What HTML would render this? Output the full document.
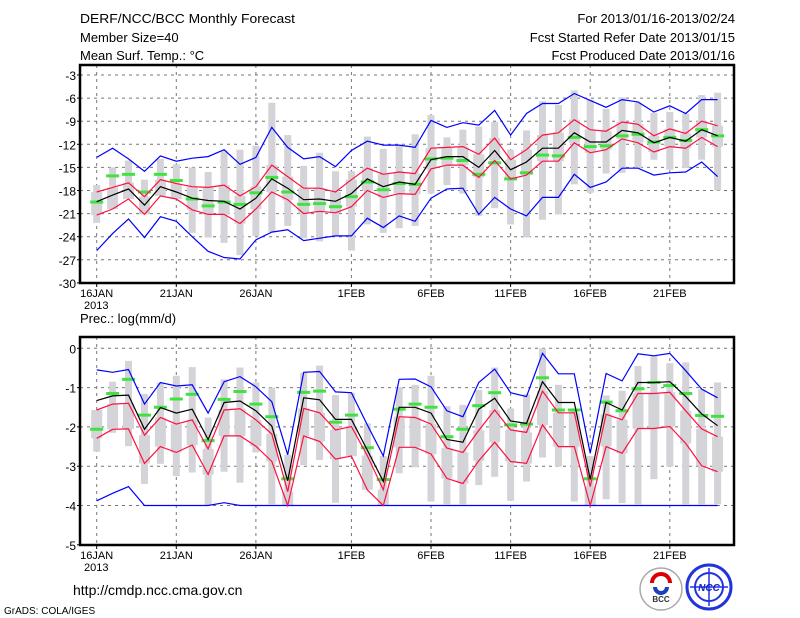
<!DOCTYPE html>
<html><head><meta charset="utf-8">
<style>
html,body{margin:0;padding:0;background:#fff;}
svg{display:block;font-family:"Liberation Sans",sans-serif;}
</style></head>
<body>
<svg id="chart" width="800" height="618" viewBox="0 0 800 618" xmlns="http://www.w3.org/2000/svg">
<g font-size="13" fill="#000">
<text x="80" y="23" textLength="215" lengthAdjust="spacingAndGlyphs">DERF/NCC/BCC Monthly Forecast</text>
<text x="80" y="42">Member Size=40</text>
<text x="80" y="60">Mean Surf. Temp.: °C</text>
<text x="735" y="23" text-anchor="end">For 2013/01/16-2013/02/24</text>
<text x="735" y="42" text-anchor="end">Fcst Started Refer Date 2013/01/15</text>
<text x="735" y="60" text-anchor="end">Fcst Produced Date 2013/01/16</text>
</g>
<text x="80" y="323" font-size="13">Prec.: log(mm/d)</text>
<g id="top"></g>
<g id="bot"></g>
<text x="73" y="595" font-size="14">http://cmdp.ncc.cma.gov.cn</text>
<text x="4" y="614" font-size="10">GrADS: COLA/IGES</text>
<g>
<circle cx="661" cy="589" r="21" fill="#fff" stroke="#aaa" stroke-width="1.5"/>
<path d="M652 583 a9 9 0 1 1 18 0" fill="none" stroke="#d00" stroke-width="4"/>
<path d="M655 587 a6 6 0 1 0 12 0" fill="none" stroke="#1a3fc0" stroke-width="4"/>
<text x="661" y="602" font-size="8" text-anchor="middle" font-weight="bold" fill="#333">BCC</text>
</g>
<g>
<circle cx="709" cy="587" r="22" fill="#fff" stroke="#2233dd" stroke-width="3"/>
<circle cx="709" cy="587" r="14" fill="none" stroke="#2233dd" stroke-width="2"/>
<path d="M690 587 h38 M709 568 v38" stroke="#2233dd" stroke-width="1.5"/>
<text x="709" y="591" font-size="10" text-anchor="middle" font-style="italic" font-weight="bold" fill="#1122cc">NCC</text>
</g>
</svg>
<script>
// ---- data (40 days, 16JAN..24FEB 2013) ----
const dayLabels = ["16JAN","21JAN","26JAN","1FEB","6FEB","11FEB","16FEB","21FEB"];
const dayLabelIdx = [0,5,10,16,21,26,31,36];
const tempTicks = [-3,-6,-9,-12,-15,-18,-21,-24,-27,-30];
const precTicks = [0,-1,-2,-3,-4,-5];

const tMean = [-19.45,-18.6,-17.8,-19.9,-17.5,-18.2,-19.0,-19.3,-19.4,-20.4,-19.0,-16.5,-17.7,-19.2,-19.1,-19.4,-18.4,-16.5,-17.5,-16.9,
 -17.2,-14.0,-13.6,-13.6,-15.0,-12.8,-15.3,-14.3,-12.5,-12.5,-10.5,-11.7,-11.7,-10.2,-10.5,-11.8,-11.1,-11.6,-10.1,-10.9];
const tRedHi = [-18.2,-17.6,-17.0,-18.8,-16.6,-17.1,-17.5,-17.6,-17.3,-18.7,-17.5,-14.7,-16.2,-17.7,-17.7,-18.2,-16.6,-15.1,-15.9,-15.6,
 -15.8,-12.5,-12.4,-12.3,-13.3,-11.2,-14.0,-12.7,-10.8,-10.5,-8.8,-10.1,-10.3,-9.1,-9.4,-10.9,-10.0,-10.6,-9.0,-9.6];
const tRedLo = [-21.2,-20.4,-19.1,-21.1,-18.7,-19.1,-20.5,-21.1,-21.1,-22.3,-20.4,-18.2,-19.2,-21.0,-20.7,-20.9,-20.1,-18.0,-18.9,-18.4,
 -18.5,-15.2,-14.7,-14.7,-16.3,-14.1,-16.5,-16.0,-14.2,-14.2,-11.8,-13.1,-12.7,-11.3,-11.8,-13.0,-12.3,-12.5,-11.1,-12.3];
const tBlueHi = [-13.7,-12.5,-13.9,-15.5,-13.5,-14.2,-13.8,-13.6,-12.7,-14.6,-13.7,-9.8,-12.4,-13.9,-13.6,-14.9,-12.8,-11.6,-12.1,-12.1,
 -12.4,-8.9,-9.8,-9.2,-9.5,-7.6,-10.8,-8.0,-6.7,-6.7,-5.4,-6.3,-7.2,-6.2,-6.5,-7.8,-7.0,-8.0,-6.2,-6.2];
const tBlueLo = [-25.8,-23.6,-21.7,-24.1,-21.4,-22.0,-24.0,-25.9,-26.7,-26.9,-24.4,-23.4,-23.1,-24.5,-24.2,-23.9,-23.9,-21.6,-22.8,-21.3,
 -22.0,-19.0,-17.8,-17.7,-21.1,-18.9,-20.4,-21.3,-18.9,-18.9,-15.9,-17.6,-16.9,-15.1,-15.1,-16.0,-15.7,-15.6,-14.3,-16.2];
const tWhiskHi = [-17.3,-15.0,-14.1,-16.6,-13.9,-14.6,-15.0,-15.6,-12.8,-12.7,-12.2,-6.6,-10.8,-14.8,-13.1,-15.5,-15.5,-11.0,-12.6,-12.1,
 -10.7,-8.2,-11.1,-10.1,-9.7,-9.1,-12.7,-10.2,-6.4,-6.9,-5.0,-6.2,-7.4,-5.9,-6.6,-7.9,-7.8,-8.0,-5.6,-5.3];
const tWhiskLo = [-22.2,-17.5,-18.2,-20.1,-18.4,-18.8,-23.5,-24.1,-24.8,-26.4,-23.9,-23.4,-22.6,-24.2,-24.6,-23.9,-25.8,-22.4,-23.5,-22.9,
 -22.6,-18.4,-17.3,-18.4,-21.3,-20.3,-22.4,-24.1,-21.8,-21.1,-17.2,-18.3,-15.8,-15.7,-15.1,-14.0,-15.3,-15.1,-14.0,-18.0];
const tObs = [-19.5,-16.1,-15.9,-18.2,-15.9,-16.7,-19.1,-20.0,-19.5,-19.8,-18.3,-16.3,-18.2,-19.8,-19.7,-20.1,-18.8,-16.9,-17.9,-17.1,
 -17.2,-13.9,-13.8,-14.1,-15.9,-14.4,-16.5,-15.7,-13.4,-13.5,-11.1,-12.3,-12.2,-10.9,-10.7,-11.7,-11.1,-11.5,-10.1,-10.9];

const pMean = [-1.33,-1.21,-1.19,-2.06,-1.51,-1.65,-1.55,-2.32,-1.38,-1.34,-1.59,-1.98,-3.37,-1.26,-1.31,-1.81,-1.81,-2.59,-3.39,-1.50,
 -1.50,-1.65,-2.32,-2.39,-1.55,-1.27,-1.85,-1.91,-0.85,-1.38,-1.38,-3.33,-1.38,-1.57,-0.87,-0.87,-0.85,-1.23,-1.67,-1.97];
const pRedHi = [-1.57,-1.42,-1.40,-2.21,-1.76,-1.93,-1.82,-2.56,-1.57,-1.54,-1.82,-2.18,-3.65,-1.53,-1.64,-2.08,-1.99,-2.73,-3.60,-1.74,
 -1.76,-1.93,-2.54,-2.65,-2.09,-1.57,-2.08,-2.14,-1.09,-1.64,-1.64,-3.52,-1.68,-1.82,-1.15,-1.15,-1.12,-1.59,-2.05,-2.25];
const pRedLo = [-2.29,-2.06,-2.05,-2.93,-2.50,-2.65,-2.46,-3.21,-2.23,-2.23,-2.49,-2.88,-4.0,-2.23,-2.37,-2.82,-2.74,-3.60,-4.0,-2.52,
 -2.52,-2.69,-3.31,-3.44,-2.86,-2.39,-2.88,-2.93,-1.95,-2.50,-2.50,-4.0,-2.50,-2.67,-2.04,-2.04,-1.99,-2.42,-2.99,-3.14];
const pBlueHi = [-0.55,-0.61,-0.54,-1.42,-0.87,-0.96,-0.93,-1.65,-0.85,-0.72,-0.98,-1.36,-2.71,-0.61,-0.59,-1.11,-1.13,-1.95,-2.74,-0.79,
 -0.78,-0.98,-1.59,-1.74,-0.87,-0.53,-1.13,-1.23,-0.13,-0.65,-0.65,-2.67,-0.64,-0.83,-0.14,-0.19,-0.13,-0.57,-1.04,-1.26];
const pBlueLo = [-3.88,-3.69,-3.52,-4,-4,-4,-4,-4,-3.93,-4,-4,-4,-4,-4,-4,-4,-4,-4,-4,-4,
 -4,-4,-4,-4,-4,-4,-4,-4,-4,-4,-4,-4,-4,-4,-4,-4,-4,-4,-4,-4];
const pWhiskHi = [-1.81,-0.85,-0.32,-1.16,-0.87,-0.70,-0.48,-1.76,-0.79,-0.49,-0.87,-1.0,-2.71,-0.62,-0.44,-1.19,-1.13,-1.91,-2.74,-0.99,
 -0.93,-0.70,-1.47,-1.44,-1.06,-0.49,-1.53,-1.17,0,-0.93,-1.53,-2.74,-1.20,-1.08,-0.45,-0.20,-0.38,-0.36,-1.04,-0.87];
const pWhiskLo = [-2.63,-2.15,-2.49,-3.45,-2.94,-3.25,-3.16,-3.99,-3.14,-3.42,-2.65,-3.97,-3.97,-2.97,-2.84,-3.93,-2.46,-3.54,-3.97,-3.18,
 -3.03,-3.90,-3.97,-3.97,-3.48,-3.27,-3.88,-3.39,-2.78,-3.01,-3.90,-3.97,-3.84,-3.94,-3.97,-3.33,-3.01,-3.97,-3.97,-3.97];
const pObs = [-2.06,-1.15,-0.79,-1.70,-1.50,-1.29,-1.17,-2.35,-1.30,-1.10,-1.42,-1.74,-3.32,-1.12,-1.09,-1.88,-1.70,-2.53,-3.34,-1.55,
 -1.42,-1.50,-2.25,-2.06,-1.46,-1.13,-1.95,-1.93,-0.75,-1.57,-1.57,-3.32,-1.37,-1.59,-1.03,-0.87,-0.95,-1.15,-1.71,-1.73];

const NS = "http://www.w3.org/2000/svg";
const X0 = 80, X1 = 734;
function xDay(i){ return 96.7 + 15.92*i; }
function mk(parent, tag, attrs){
  const e = document.createElementNS(NS, tag);
  for (const k in attrs) e.setAttribute(k, attrs[k]);
  parent.appendChild(e); return e;
}

function panel(g, cfg){
  const yS = v => cfg.yTop + (cfg.vTop - v) * cfg.ppu;
  // gridlines
  cfg.ticks.forEach(t => {
    const y = yS(t);
    if (y > cfg.top + 2 && y < cfg.bottom - 2) {
      const l = mk(g,'line',{x1:X0,x2:X1,y1:y,y2:y,stroke:'#777','stroke-width':1,'stroke-dasharray':'3,4'});
      
      
    }
    const tl = mk(g,'text',{x:X0-4,y:y+5,'font-size':12,'text-anchor':'end'});
    tl.textContent = t;
    
    
    mk(g,'line',{x1:X0-3,x2:X0,y1:y,y2:y,stroke:'#000'});
  });
  dayLabelIdx.forEach((d,k) => {
    const x = xDay(d);
    const l = mk(g,'line',{x1:x,x2:x,y1:cfg.top,y2:cfg.bottom,stroke:'#777','stroke-width':1,'stroke-dasharray':'3,4'});
    
    
    mk(g,'line',{x1:x,x2:x,y1:cfg.bottom,y2:cfg.bottom+4,stroke:'#000'});
    const tl = mk(g,'text',{x:x,y:cfg.bottom+14,'font-size':11,'text-anchor':'middle'});
    tl.textContent = dayLabels[k];
    
    
  });
  const yr = mk(g,'text',{x:84,y:cfg.bottom+26,'font-size':11});
  yr.textContent = '2013';
  
  
  // boxes
  for (let i=0;i<cfg.mean.length;i++){
    const x = xDay(i);
    const w = mk(g,'rect',{x:x-3.5,width:7,y:yS(cfg.wHi[i]),height:Math.max(0,yS(cfg.wLo[i])-yS(cfg.wHi[i])),fill:'#d3d3d8'});
    
    
    const b = mk(g,'rect',{x:x-5.5,width:11,y:yS(cfg.rHi[i]),height:Math.max(0,yS(cfg.rLo[i])-yS(cfg.rHi[i])),fill:'#d3d3d8'});
    
    
  }
  const line = (arr,color,name) => {
    const p = mk(g,'polyline',{points:arr.map((v,i)=>xDay(i).toFixed(1)+','+yS(v).toFixed(1)).join(' '),fill:'none',stroke:color,'stroke-width':1.2});
    
    
  };
  for (let i=0;i<cfg.obs.length;i++){
    const r = mk(g,'rect',{x:xDay(i)-6.5,width:13,y:yS(cfg.obs[i])-1.5,height:3,fill:'#3fe33f'});
    
    
  }
  line(cfg.bHi,'#0000ff','blue-max-line');
  line(cfg.bLo,'#0000ff','blue-min-line');
  line(cfg.rHi,'#ff1040','red-upper-line');
  line(cfg.rLo,'#ff1040','red-lower-line');
  line(cfg.mean,'#000','ensemble-mean-line');
  const f = mk(g,'rect',{x:X0,y:cfg.top,width:X1-X0,height:cfg.bottom-cfg.top,fill:'none',stroke:'#000','stroke-width':2.5});
  
  
}

panel(document.getElementById('top'),{top:65,bottom:283,yTop:75,vTop:-3,ppu:7.7,ticks:tempTicks,
  mean:tMean,rHi:tRedHi,rLo:tRedLo,bHi:tBlueHi,bLo:tBlueLo,wHi:tWhiskHi,wLo:tWhiskLo,obs:tObs});
panel(document.getElementById('bot'),{top:337,bottom:545,yTop:348.3,vTop:0,ppu:39.3,ticks:precTicks,
  mean:pMean,rHi:pRedHi,rLo:pRedLo,bHi:pBlueHi,bLo:pBlueLo,wHi:pWhiskHi,wLo:pWhiskLo,obs:pObs});
</script>
</body></html>
